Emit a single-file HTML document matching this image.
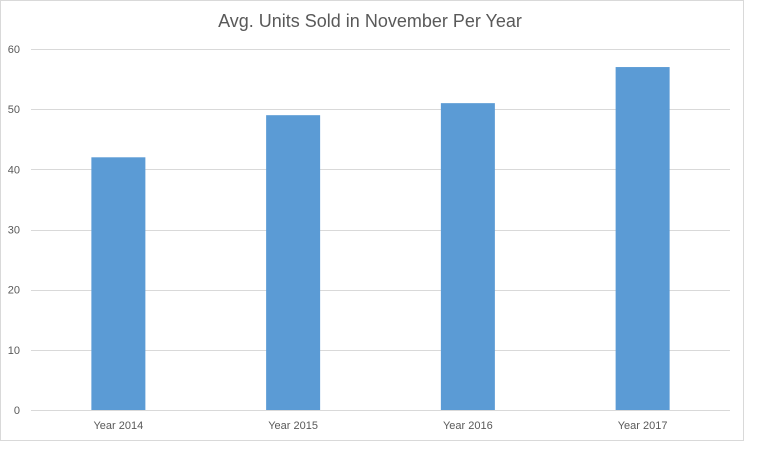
<!DOCTYPE html>
<html><head><meta charset="utf-8"><style>
body{margin:0;background:#fff;}
svg{display:block;font-family:"Liberation Sans",sans-serif;}
</style></head><body>
<svg id="c" width="768" height="463">
<rect x="0.5" y="0.5" width="743" height="440" fill="#fff" stroke="#d9d9d9"/>
<text x="370" y="27" text-anchor="middle" font-size="18" fill="#595959">Avg. Units Sold in November Per Year</text>
<g id="grid"></g><g id="bars"></g><g id="labels"></g>
</svg>
<script>
const categories=["Year 2014","Year 2015","Year 2016","Year 2017"];
const values=[42,49,51,57];
const ticks=[0,10,20,30,40,50,60];
const NS="http://www.w3.org/2000/svg";
const x0=31,x1=730,y0=410,yTop=49,maxV=60;
const y=v=>y0-(v/maxV)*(y0-yTop);
const bw=(x1-x0)/categories.length;
const xc=i=>x0+bw*(i+0.5);
const grid=document.getElementById('grid'),bars=document.getElementById('bars'),labels=document.getElementById('labels');
ticks.forEach(t=>{
 const l=document.createElementNS(NS,'line');
 l.setAttribute('x1',x0);l.setAttribute('x2',x1);l.setAttribute('y1',Math.round(y(t))+0.5);l.setAttribute('y2',Math.round(y(t))+0.5);
 l.setAttribute('stroke','#d9d9d9');
 
 
 grid.appendChild(l);
 const tx=document.createElementNS(NS,'text');
 tx.setAttribute('x',20);tx.setAttribute('y',y(t)+4);tx.setAttribute('text-anchor','end');
 tx.setAttribute('font-size','11');tx.setAttribute('fill','#595959');
 tx.textContent=t;
 
 
 labels.appendChild(tx);
});
categories.forEach((c,i)=>{
 const r=document.createElementNS(NS,'rect');
 const w=54;
 r.setAttribute('x',xc(i)-w/2);r.setAttribute('width',w);
 r.setAttribute('y',y(values[i]));r.setAttribute('height',y0-y(values[i]));
 r.setAttribute('fill','#5b9bd5');
 
 
 bars.appendChild(r);
 const tx=document.createElementNS(NS,'text');
 tx.setAttribute('x',xc(i));tx.setAttribute('y',429);tx.setAttribute('text-anchor','middle');
 tx.setAttribute('font-size','11');tx.setAttribute('fill','#595959');
 tx.textContent=c;
 
 
 labels.appendChild(tx);
});
</script>
</body></html>
